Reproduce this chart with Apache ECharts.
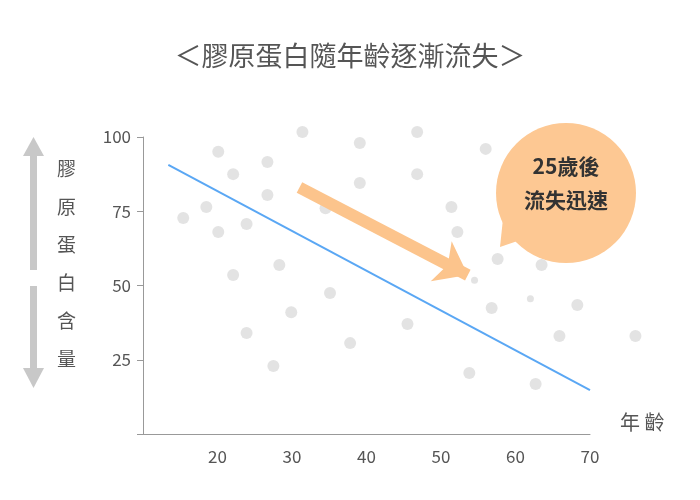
<!DOCTYPE html>
<html><head><meta charset="utf-8">
<script src="https://cdn.jsdelivr.net/npm/echarts@6/dist/echarts.min.js"></script>
<style>html,body{margin:0;background:#fff}#c{width:700px;height:500px}</style>
</head><body><div id="c"></div>
<script>
const xTicks = [10, 20, 30, 40, 50, 60, 70];
const yTicks = [0, 25, 50, 75, 100];
const bigDots = [
  [31.4, 101.7], [39.1, 98], [46.8, 101.7], [56, 96], [20.1, 95], [26.7, 91.6],
  [22.1, 87.5], [39.1, 84.5], [46.8, 87.5], [18.5, 76.4], [15.4, 72.7], [26.7, 80.5],
  [23.9, 70.7], [20.1, 68], [34.5, 76], [51.4, 76.4], [52.2, 68], [28.3, 56.9],
  [22.1, 53.5], [57.6, 58.9], [63.5, 56.9], [35.1, 47.5], [29.9, 41], [56.8, 42.4],
  [68.3, 43.4], [23.9, 34], [45.5, 37], [37.8, 30.6], [65.9, 33], [76.1, 33],
  [27.5, 22.9], [53.8, 20.5], [62.7, 16.8]
];
const smallDots = [[54.5, 51.8], [62, 45.5]];
const trendLine = [[13.4, 90.6], [70, 14.8]];
const arrowLine = [[31, 83], [53.6, 53.5]];

const chart = echarts.init(document.getElementById("c"));
const font = "'Noto Sans CJK TC', 'Noto Sans', sans-serif";
chart.setOption({
  animation: false,
  textStyle: {fontFamily: font},
  graphic: [
    {type: "text", x: 350, y: 56, style: {text: "＜膠原蛋白隨年齡逐漸流失＞", fill: "#555", font: "27px " + font, textAlign: "center", textVerticalAlign: "middle"}},
    {type: "polygon", shape: {points: [[505, 200], [535, 235], [500, 247]]}, style: {fill: "#fdc893"}},
    {type: "circle", shape: {cx: 566, cy: 193, r: 70}, style: {fill: "#fdc893"}},
    {type: "text", x: 566, y: 183, style: {text: "25歲後\n流失迅速", fill: "#333", font: "bold 21px " + font, lineHeight: 34, textAlign: "center", textVerticalAlign: "middle"}},
    {type: "text", left: 620, top: 412, style: {text: "年 齡", fill: "#555", font: "20px " + font}},
    {type: "text", left: 57, top: 150, style: {text: "膠\n原\n蛋\n白\n含\n量", fill: "#555", font: "19px " + font, lineHeight: 38}},
    {type: "rect", shape: {x: 30, y: 150, width: 7, height: 120}, style: {fill: "#c8c8c8"}},
    {type: "polygon", shape: {points: [[23, 156], [33.5, 137], [44, 156]]}, style: {fill: "#c8c8c8"}},
    {type: "rect", shape: {x: 30, y: 286, width: 7, height: 86}, style: {fill: "#c8c8c8"}},
    {type: "polygon", shape: {points: [[23, 368], [33.5, 388], [44, 368]]}, style: {fill: "#c8c8c8"}}
  ],
  grid: {left: 143, right: 110, top: 137, bottom: 66},
  xAxis: {
    type: "value", min: xTicks[0], max: xTicks[xTicks.length - 1], interval: 10,
    axisLine: {lineStyle: {color: "#999"}}, axisTick: {show: false}, splitLine: {show: false},
    axisLabel: {color: "#555", fontSize: 17, margin: 14, formatter: v => v === 10 ? "" : v}
  },
  yAxis: {
    type: "value", min: yTicks[0], max: yTicks[yTicks.length - 1], interval: 25,
    axisLine: {show: true, lineStyle: {color: "#999"}}, axisTick: {show: true, length: 6, lineStyle: {color: "#999"}},
    splitLine: {show: false},
    axisLabel: {color: "#555", fontSize: 17, margin: 12, formatter: v => v === 0 ? "" : v}
  },
  series: [
    {type: "scatter", data: bigDots, symbolSize: 12, clip: false, itemStyle: {color: "#dcdcdc"}},
    {type: "scatter", data: smallDots, symbolSize: 7, itemStyle: {color: "#dcdcdc"}},
    {type: "line", data: trendLine, symbol: "none", lineStyle: {color: "#5aa7f4", width: 2}},
    {
      type: "line", data: [], markLine: {
        silent: true, symbol: ["none", "arrow"], symbolSize: [34, 30],
        lineStyle: {color: "#fcc48c", width: 12, type: "solid"}, label: {show: false},
        data: [[{coord: arrowLine[0]}, {coord: arrowLine[1]}]]
      }
    }
  ]
});
</script></body></html>
